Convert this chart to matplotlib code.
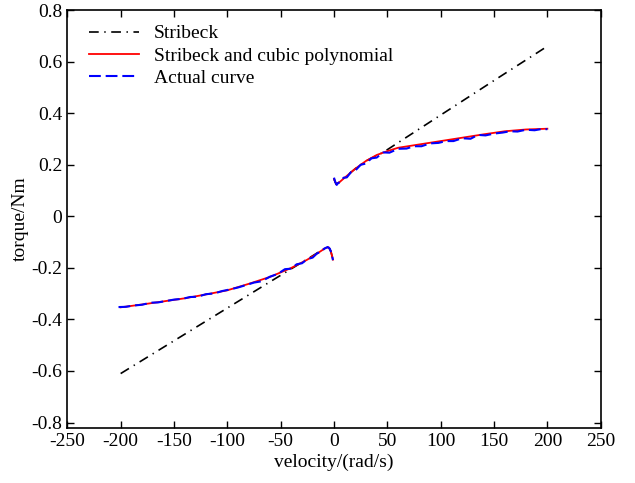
import matplotlib
matplotlib.use("Agg")
import matplotlib.pyplot as plt

plt.rcParams['font.family'] = ['Liberation Serif', 'DejaVu Serif']
plt.rcParams['axes.unicode_minus'] = False
plt.rcParams['lines.scale_dashes'] = False

# Stribeck model
strib_neg_v = [-200, -60, -20, -8, -5, -3, -1]
strib_neg_t = [-0.61, -0.254, -0.153, -0.122, -0.12, -0.135, -0.168]
strib_pos_v = [0, 2, 5, 10, 20, 30, 46, 100, 150, 200]
strib_pos_t = [0.145, 0.125, 0.132, 0.15, 0.185, 0.215, 0.248, 0.393, 0.527, 0.66]

# Stribeck and cubic polynomial
poly_neg_v = [-200, -180, -160, -140, -120, -100, -80, -60, -40, -25, -15, -8, -5, -3, -1]
poly_neg_t = [-0.353, -0.342, -0.330, -0.318, -0.303, -0.287, -0.262, -0.235, -0.200,
              -0.168, -0.142, -0.123, -0.12, -0.135, -0.168]
poly_pos_v = [0, 2, 5, 10, 20, 30, 40, 50, 60, 80, 100, 120, 140, 160, 180, 200]
poly_pos_t = [0.145, 0.125, 0.132, 0.15, 0.185, 0.215, 0.238, 0.253, 0.266, 0.279,
              0.292, 0.305, 0.318, 0.330, 0.337, 0.34]

# Actual curve
act_neg_v = [-202, -195, -188, -180, -172, -165, -158, -150, -142, -135, -128, -120,
             -112, -105, -98, -90, -82, -75, -68, -60, -53, -46, -40, -35, -30, -25,
             -20, -16, -12, -9, -6, -4, -2, -1]
act_neg_t = [-0.352, -0.351, -0.346, -0.343, -0.335, -0.334, -0.329, -0.323, -0.320,
             -0.313, -0.312, -0.302, -0.299, -0.290, -0.284, -0.276, -0.266, -0.257,
             -0.252, -0.234, -0.224, -0.205, -0.203, -0.186, -0.182, -0.166, -0.160,
             -0.144, -0.137, -0.125, -0.119, -0.125, -0.148, -0.170]
act_pos_v = [0, 1, 2.5, 4, 6, 9, 12, 16, 20, 25, 30, 35, 40, 46, 52, 60, 68, 75, 82,
             90, 98, 105, 112, 120, 128, 135, 142, 150, 158, 165, 172, 180, 188, 195, 200]
act_pos_t = [0.150, 0.135, 0.122, 0.130, 0.133, 0.150, 0.151, 0.172, 0.178, 0.200,
             0.205, 0.225, 0.228, 0.248, 0.247, 0.262, 0.263, 0.272, 0.272, 0.283,
             0.285, 0.292, 0.292, 0.303, 0.301, 0.316, 0.314, 0.321, 0.325, 0.330,
             0.329, 0.336, 0.334, 0.339, 0.338]

xticks = [-250, -200, -150, -100, -50, 0, 50, 100, 150, 200, 250]
yticks = [-0.8, -0.6, -0.4, -0.2, 0, 0.2, 0.4, 0.6, 0.8]
ytick_labels = ['-0.8', '-0.6', '-0.4', '-0.2', '0', '0.2', '0.4', '0.6', '0.8']

fig = plt.figure(figsize=(6.35, 4.83), dpi=100)
ax = fig.add_axes([0.106, 0.1145, 0.840, 0.8645])

dashdot = (0, (7, 4, 1, 4))
dashed = (0, (8.5, 3.5))

l1, = ax.plot(strib_neg_v, strib_neg_t, color='black', lw=1.2, linestyle=dashdot, label='Stribeck')
ax.plot(strib_pos_v, strib_pos_t, color='black', lw=1.2, linestyle=dashdot)
l2, = ax.plot(poly_neg_v, poly_neg_t, color='red', lw=1.3, label='Stribeck and cubic polynomial')
ax.plot(poly_pos_v, poly_pos_t, color='red', lw=1.3)
l3, = ax.plot(act_neg_v, act_neg_t, color='blue', lw=1.5, linestyle=dashed, label='Actual curve')
ax.plot(act_pos_v, act_pos_t, color='blue', lw=1.5, linestyle=dashed)

ax.set_xlim(-250, 250)
ax.set_ylim(-0.82, 0.8)
ax.set_xticks(xticks)
ax.set_xticklabels([str(x) for x in xticks])
ax.set_yticks(yticks)
ax.set_yticklabels(ytick_labels)
ax.tick_params(direction='in', top=True, right=True, length=5, width=1, labelsize=14)
for s in ax.spines.values():
    s.set_linewidth(1.2)

ax.set_xlabel('velocity/(rad/s)', fontsize=14, labelpad=3)
ax.set_ylabel('torque/Nm', fontsize=14, labelpad=2)

ax.legend(handles=[l1, l2, l3], loc='upper left', frameon=False, fontsize=14,
          handlelength=2.6, handletextpad=0.77, labelspacing=0.25,
          bbox_to_anchor=(0.007, 1.007))

fig.savefig('out.png', dpi=100)
